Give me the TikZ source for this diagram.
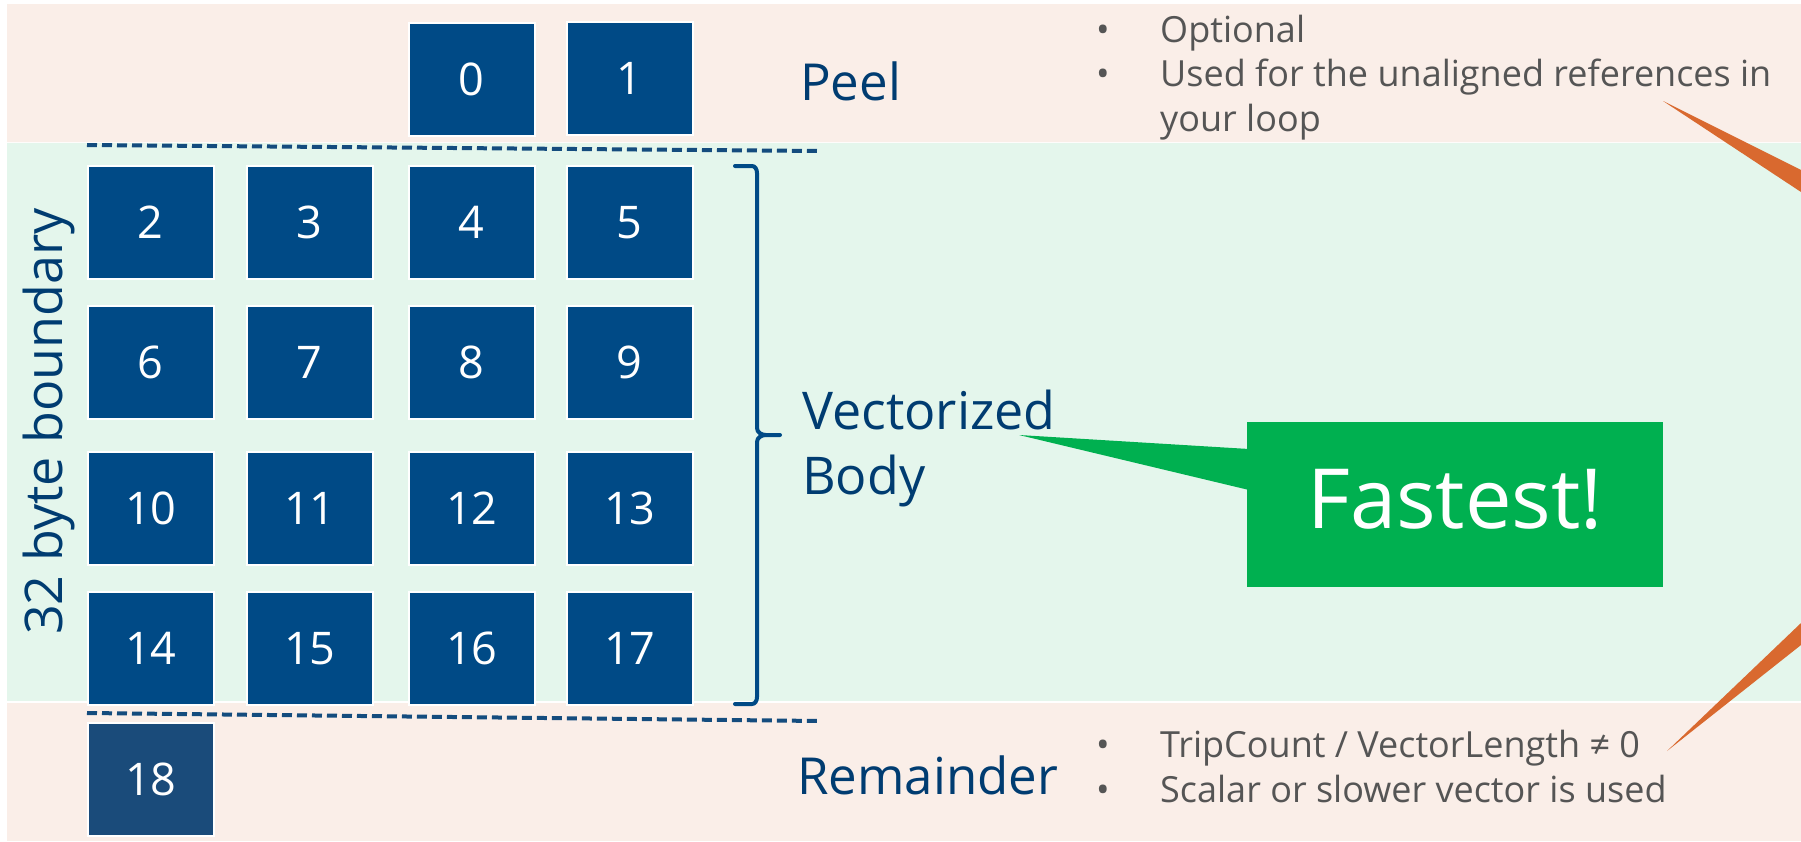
\documentclass[tikz,border=0pt]{standalone}
\usepackage{fontspec}
\setmainfont{Open Sans}
\definecolor{peach}{RGB}{250,238,232}
\definecolor{mint}{RGB}{228,246,236}
\definecolor{boxblue}{RGB}{0,74,134}
\definecolor{tailblue}{RGB}{26,75,122}
\definecolor{labelblue}{RGB}{0,60,113}
\definecolor{dashblue}{RGB}{20,76,126}
\definecolor{notegray}{RGB}{85,85,85}
\definecolor{calloutorange}{RGB}{217,105,47}
\definecolor{fastgreen}{RGB}{0,176,80}
\begin{document}
\begin{tikzpicture}[x=1pt,y=-1pt,
  cell/.style={draw=white, line width=1.5pt, fill=boxblue, text=white,
    minimum width=126pt, minimum height=113pt, inner sep=0pt,
    anchor=north west, font=\fontsize{45}{48}\selectfont},
  section/.style={text=labelblue, inner sep=0pt, anchor=base west,
    font=\fontsize{51}{65}\selectfont},
  note/.style={text=notegray, inner sep=0pt, anchor=base west,
    font=\fontsize{36}{44}\selectfont},
  dot/.style={text=notegray, inner sep=0pt, anchor=base,
    font=\fontsize{36}{44}\selectfont},
  boundary/.style={draw=dashblue, line width=4pt, dash pattern=on 10pt off 5pt},
  bracket/.style={draw=boxblue, line width=4pt, line join=round, line cap=round}]

% page and the three bands
\useasboundingbox (0,0) rectangle (1801,841);
\fill[white] (0,0) rectangle (1801,841);
\fill[peach] (7,4) rectangle (1801,142);
\fill[mint] (7,142) rectangle (1801,702);
\fill[peach] (7,702) rectangle (1801,841);
\draw[white!85!peach, line width=1pt] (7,142) -- (1801,142);
\draw[white, line width=2pt] (7,702) -- (1801,702);

% peel iterations
\node[cell] (b0) at (408,22) {0};
\node[cell] (b1) at (566,21) {1};

% vectorized body: four rows of four
\foreach \r [count=\i from 0] in {165,305,451,591} {
  \foreach \c [count=\j from 0] in {87,246,408,566} {
    \pgfmathtruncatemacro\n{2+4*\i+\j}
    \node[cell] (b\n) at (\c,\r) {\n};
  }
}

% remainder iteration
\node[cell, fill=tailblue] (b18) at (87,722) {18};

% alignment boundaries
\draw[boundary] (87,145) -- (820,151);
\draw[boundary] (87,713) -- (820,721);

% brace around the body
\draw[bracket] (735,166) -- (752,166) to[out=0,in=90] (757,173)
  -- (757,428) to[out=-90,in=180] (766,435) -- (780,435);
\draw[bracket] (766,435) to[out=180,in=90] (757,442)
  -- (757,697) to[out=-90,in=0] (752,704) -- (735,704);

% section labels
\node[section] (peel) at (800,100) {Peel};
\node[section, font=\fontsize{52}{65}\selectfont] (vec) at (802,429) {Vectorized};
\node[section, font=\fontsize{52}{65}\selectfont] (body) at (802,494) {Body};
\node[section] (rem) at (797,794) {Remainder};

\node[text=labelblue, inner sep=0pt, anchor=base west, rotate=90,
  font=\fontsize{52}{60}\selectfont] (bound) at (62,635) {32 byte boundary};

% notes on the peel loop
\node[dot] (d1) at (1103,42) {•};
\node[note] (n1) at (1160,42) {Optional};
\node[dot] (d2) at (1103,86) {•};
\node[note] (n2) at (1160,86) {Used for the unaligned references in};
\node[note] (n3) at (1160,131) {your loop};

% notes on the remainder loop
\node[dot] (d3) at (1103,757) {•};
\node[note] (n4) at (1160,757) {TripCount / VectorLength ≠ 0};
\node[dot] (d4) at (1103,802) {•};
\node[note] (n5) at (1160,802) {Scalar or slower vector is used};

% green callout
\node[fill=fastgreen, text=white, minimum width=416pt, minimum height=165pt,
  inner sep=0pt, anchor=north west] (fast) at (1247,422) {};
\node[text=white, inner sep=0pt, anchor=base, font=\fontsize{83}{90}\selectfont]
  (fasttxt) at (1455,528) {Fastest!};
\coordinate (vtip) at (1019,435);
\fill[fastgreen] (vtip) -- ([yshift=-27pt,xshift=2pt]fast.north west)
  -- ([yshift=-68pt,xshift=2pt]fast.north west) -- cycle;

% orange callout pointers entering from the right
\coordinate (uptip) at (1663,101);
\coordinate (upa) at (1801,170);
\coordinate (upb) at (1801,192);
\coordinate (lotip) at (1667,751);
\coordinate (loa) at (1801,623);
\coordinate (lob) at (1801,645);
\fill[calloutorange] (uptip) -- (upa) -- (upb) -- cycle;
\fill[calloutorange] (lotip) -- (loa) -- (lob) -- cycle;
\end{tikzpicture}
\end{document}
